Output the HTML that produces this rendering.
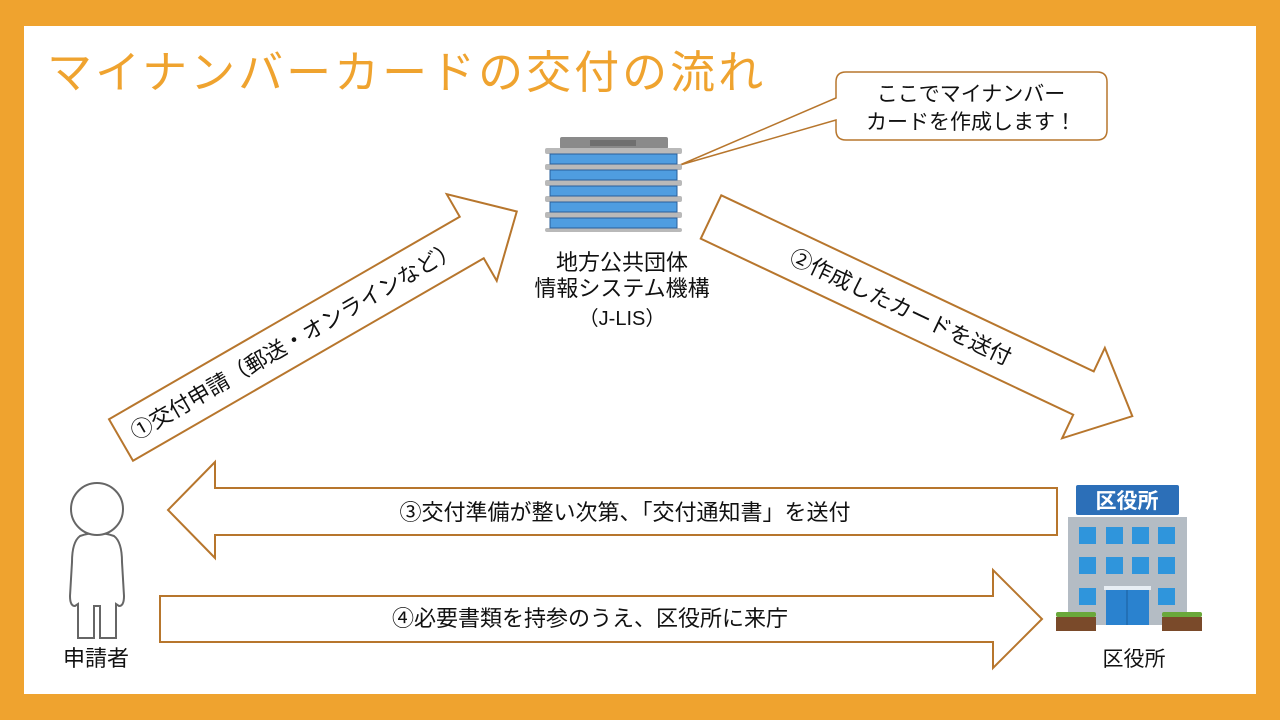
<!DOCTYPE html>
<html><head><meta charset="utf-8"><style>
html,body{margin:0;padding:0}
body{width:1280px;height:720px;background:#EFA32F;position:relative;overflow:hidden;font-family:"Liberation Sans","Noto Sans CJK JP",sans-serif}
.in{position:absolute;left:24px;top:26px;width:1232px;height:668px;background:#fff}
svg{position:absolute;left:0;top:0}
</style></head><body>
<div class="in"></div>
<svg width="1280" height="720" viewBox="0 0 1280 720" font-family="Liberation Sans, Noto Sans CJK JP, sans-serif">
<text x="47" y="88" font-size="45" fill="#EFA32F" letter-spacing="3">マイナンバーカードの交付の流れ</text>
<!-- bubble -->
<path d="M846,72 H1097 Q1107,72 1107,82 V130 Q1107,140 1097,140 H846 Q836,140 836,130 V120 L680,165 L836,98 V82 Q836,72 846,72 Z" fill="#fff" stroke="#B7762D" stroke-width="1.5"/>
<text x="971" y="101" font-size="21" text-anchor="middle" fill="#111">ここでマイナンバー</text>
<text x="971" y="129" font-size="21" text-anchor="middle" fill="#111">カードを作成します！</text>
<!-- JLIS building -->
<rect x="560" y="137" width="108" height="12" rx="2" fill="#8a8a8a"/>
<rect x="590" y="140" width="46" height="6" fill="#6f6f6f"/>
<g fill="#b9b9b9">
<rect x="545" y="148" width="137" height="6" rx="2"/>
<rect x="545" y="164" width="137" height="6" rx="2"/>
<rect x="545" y="180" width="137" height="6" rx="2"/>
<rect x="545" y="196" width="137" height="6" rx="2"/>
<rect x="545" y="212" width="137" height="6" rx="2"/>
<rect x="545" y="228" width="137" height="4" rx="2"/>
</g>
<g fill="#4f9de0" stroke="#2a5f9a" stroke-width="1">
<rect x="550" y="154" width="127" height="10"/>
<rect x="550" y="170" width="127" height="10"/>
<rect x="550" y="186" width="127" height="10"/>
<rect x="550" y="202" width="127" height="10"/>
<rect x="550" y="218" width="127" height="10"/>
</g>
<text x="622" y="270" font-size="22" text-anchor="middle" fill="#111">地方公共団体</text>
<text x="622" y="296" font-size="22" text-anchor="middle" fill="#111">情報システム機構</text>
<text x="622" y="325" font-size="20" text-anchor="middle" fill="#111">（J-LIS）</text>
<!-- arrow 1 -->
<g transform="translate(121,440) rotate(-30)">
<path d="M0,-24 H405 V-50 L457,0 L405,50 V24 H0 Z" fill="#fff" stroke="#B7762D" stroke-width="2"/>
<text x="200" y="8" font-size="22" text-anchor="middle" fill="#111">①交付申請（郵送・オンラインなど）</text>
</g>
<!-- arrow 2 -->
<g transform="translate(711,217) rotate(25.3)">
<path d="M0,-24 H412 V-50 L466,0 L412,50 V24 H0 Z" fill="#fff" stroke="#B7762D" stroke-width="2"/>
<text x="210" y="8" font-size="22" text-anchor="middle" fill="#111">②作成したカードを送付</text>
</g>
<!-- arrow 3 -->
<path d="M1057,488 H215 V462 L168,510 L215,558 V535 H1057 Z" fill="#fff" stroke="#B7762D" stroke-width="2"/>
<text x="625" y="520" font-size="22" text-anchor="middle" fill="#111">③交付準備が整い次第、「交付通知書」を送付</text>
<!-- arrow 4 -->
<path d="M160,596 H993 V570 L1042,619 L993,668 V642 H160 Z" fill="#fff" stroke="#B7762D" stroke-width="2"/>
<text x="590" y="626" font-size="22" text-anchor="middle" fill="#111">④必要書類を持参のうえ、区役所に来庁</text>
<!-- person -->
<g fill="#fff" stroke="#666" stroke-width="2">
<path d="M80,536 Q97,530 114,536 Q122,542 122,562 L124,596 Q124,606 119,606 L116,604 V638 H100 V606 H94 V638 H78 V604 L75,606 Q70,606 70,596 L72,562 Q72,542 80,536 Z"/>
<circle cx="97" cy="509" r="26"/>
</g>
<text x="96" y="666" font-size="22" text-anchor="middle" fill="#111">申請者</text>
<!-- city hall -->
<rect x="1076" y="485" width="103" height="30" rx="2" fill="#2c6fb8"/>
<text x="1127" y="508" font-size="21" font-weight="bold" text-anchor="middle" fill="#fff">区役所</text>
<rect x="1068" y="517" width="119" height="108" fill="#b4bcc4"/>
<g fill="#2f95dc">
<rect x="1079" y="527" width="17" height="17"/><rect x="1106" y="527" width="17" height="17"/><rect x="1132" y="527" width="17" height="17"/><rect x="1158" y="527" width="17" height="17"/>
<rect x="1079" y="557" width="17" height="17"/><rect x="1106" y="557" width="17" height="17"/><rect x="1132" y="557" width="17" height="17"/><rect x="1158" y="557" width="17" height="17"/>
<rect x="1079" y="588" width="17" height="17"/><rect x="1158" y="588" width="17" height="17"/>
</g>
<rect x="1104" y="586" width="47" height="4" fill="#e8eef4"/>
<rect x="1106" y="590" width="43" height="35" fill="#2a82cf"/>
<line x1="1127" y1="590" x2="1127" y2="625" stroke="#1a5e9e"/>
<rect x="1056" y="612" width="40" height="5" rx="2" fill="#6aa83a"/>
<rect x="1056" y="617" width="40" height="14" fill="#7a4a2a"/>
<rect x="1162" y="612" width="40" height="5" rx="2" fill="#6aa83a"/>
<rect x="1162" y="617" width="40" height="14" fill="#7a4a2a"/>
<text x="1134" y="666" font-size="21" text-anchor="middle" fill="#111">区役所</text>
</svg>
</body></html>
